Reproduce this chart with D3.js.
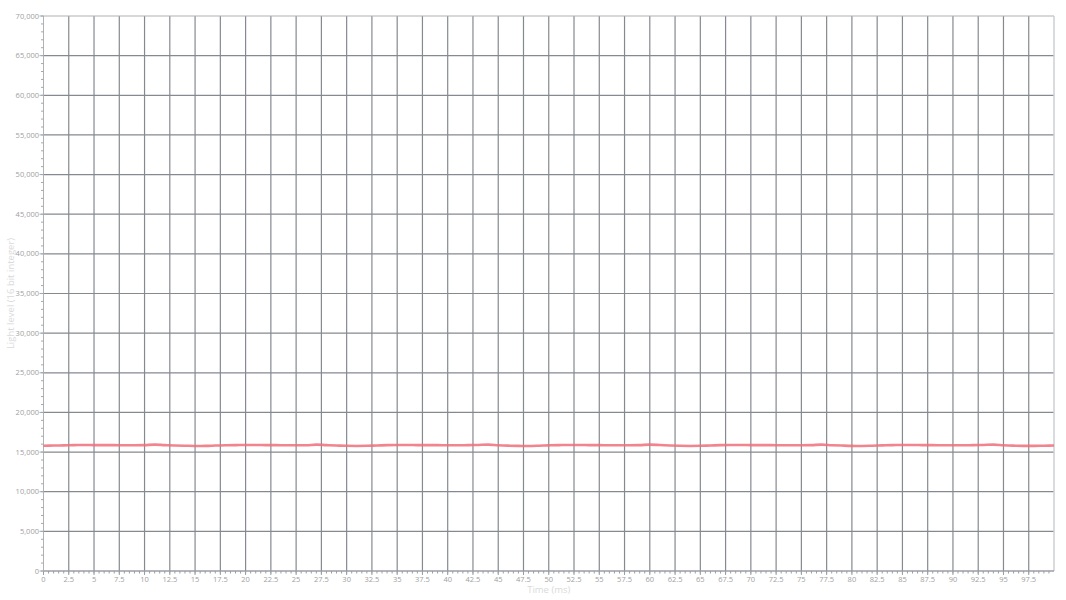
<!DOCTYPE html>
<html><head><meta charset="utf-8">
<script src="https://cdn.jsdelivr.net/npm/d3@7"></script>
<style>body{margin:0;background:#fff}svg{display:block}</style>
</head><body>
<svg id="c" width="1066" height="600"></svg>
<script>
const timeMs = d3.range(0, 101, 1);
const lightLevel = [
15800,15820,15850,15880,15890,15880,15870,15870,15860,15860,
15880,15940,15880,15830,15800,15770,15780,15820,15860,15880,
15890,15890,15880,15870,15860,15860,15860,15940,15880,15830,
15790,15770,15790,15830,15870,15890,15890,15880,15880,15870,
15860,15860,15870,15900,15940,15860,15810,15780,15770,15800,
15850,15880,15890,15890,15880,15870,15860,15860,15860,15880,
15940,15890,15830,15790,15770,15790,15830,15870,15890,15890,
15880,15880,15870,15860,15860,15860,15880,15940,15870,15820,
15780,15770,15800,15840,15880,15890,15890,15880,15870,15860,
15860,15860,15870,15900,15940,15860,15810,15780,15780,15800,
15820];
const xTicks = [0,2.5,5,7.5,10,12.5,15,17.5,20,22.5,25,27.5,30,32.5,35,37.5,40,42.5,45,47.5,50,52.5,55,57.5,60,62.5,65,67.5,70,72.5,75,77.5,80,82.5,85,87.5,90,92.5,95,97.5];
const yTicks = [0,5000,10000,15000,20000,25000,30000,35000,40000,45000,50000,55000,60000,65000,70000];
const xLabel = "Time (ms)";
const yLabel = "Light level (16 bit integer)";

const W = 1066, H = 600;
const m = {l: 43.5, r: 12, t: 16, b: 29};
const svg = d3.select("#c");
const x = d3.scaleLinear().domain([0, 100]).range([m.l, W - m.r]);
const y = d3.scaleLinear().domain([0, 70000]).range([H - m.b, m.t]);
const font = "'Open Sans', sans-serif";

// grid
const g = svg.append("g");
g.selectAll(".vx").data(xTicks.slice(1)).join("line")
  .attr("x1", d => x(d)).attr("x2", d => x(d))
  .attr("y1", m.t).attr("y2", H - m.b)
  .attr("stroke", "#858a90").attr("stroke-width", 1.2);
g.selectAll(".hy").data(yTicks.slice(1)).join("line")
  .attr("x1", m.l).attr("x2", W - m.r)
  .attr("y1", d => y(d)).attr("y2", d => y(d))
  .attr("stroke", d => d === 70000 ? "#aeb1b5" : "#858a90").attr("stroke-width", 1.2);
// right border
g.append("line").attr("x1", W - m.r).attr("x2", W - m.r).attr("y1", m.t).attr("y2", H - m.b)
  .attr("stroke", "#cdcfd1").attr("stroke-width", 1.5);

// axes
const xMinor = d3.range(0, 100, 0.5);
const yMinor = d3.range(0, 70001, 1000);
const xa = svg.append("g").attr("transform", `translate(0,${H - m.b})`);
xa.append("line").attr("x1", m.l).attr("x2", W - m.r).attr("stroke", "#9a9ea3").attr("stroke-width", 1.5);
xa.selectAll(".mn").data(xMinor).join("line")
  .attr("x1", d => x(d)).attr("x2", d => x(d)).attr("y1", 0).attr("y2", 2.5)
  .attr("stroke", "#9a9ea3").attr("stroke-width", 1);
xa.selectAll(".mj").data(xTicks).join("line")
  .attr("x1", d => x(d)).attr("x2", d => x(d)).attr("y1", 0).attr("y2", 4)
  .attr("stroke", "#9a9ea3").attr("stroke-width", 1);
xa.selectAll("text").data(xTicks).join("text")
  .attr("x", d => x(d)).attr("y", 11).attr("text-anchor", "middle")
  .attr("font-family", font).attr("font-size", 7.5).attr("fill", "#a0a0a0")
  .text(d => d3.format("")(d));

const ya = svg.append("g").attr("transform", `translate(${m.l},0)`);
ya.append("line").attr("y1", m.t).attr("y2", H - m.b).attr("stroke", "#b0b3b6").attr("stroke-width", 1);
ya.selectAll(".mn").data(yMinor).join("line")
  .attr("y1", d => y(d)).attr("y2", d => y(d)).attr("x1", 0).attr("x2", -2.5)
  .attr("stroke", "#a5a8ab").attr("stroke-width", 1);
ya.selectAll(".mj").data(yTicks).join("line")
  .attr("y1", d => y(d)).attr("y2", d => y(d)).attr("x1", 0).attr("x2", -4)
  .attr("stroke", "#a5a8ab").attr("stroke-width", 1);
ya.selectAll("text").data(yTicks).join("text")
  .attr("x", -4.5).attr("y", d => y(d)).attr("dy", "0.35em").attr("text-anchor", "end")
  .attr("font-family", font).attr("font-size", 7.5).attr("fill", "#a0a0a0")
  .text(d => d3.format(",")(d));

// labels
svg.append("text").attr("x", (m.l + W - m.r) / 2).attr("y", 593).attr("text-anchor", "middle")
  .attr("font-family", font).attr("font-size", 9.5).attr("fill", "#dadada").text(xLabel);
svg.append("text").attr("transform", `translate(14,${(m.t + H - m.b) / 2}) rotate(-90)`)
  .attr("text-anchor", "middle")
  .attr("font-family", font).attr("font-size", 9.5).attr("fill", "#dadada").text(yLabel);

// line
const line = d3.line().x((d, i) => x(timeMs[i])).y(d => y(d)).curve(d3.curveMonotoneX);
svg.append("path").datum(lightLevel).attr("d", line)
  .attr("fill", "none").attr("stroke", "#ef6f79").attr("stroke-opacity", 0.85).attr("stroke-width", 2.6);
</script>
</body></html>
